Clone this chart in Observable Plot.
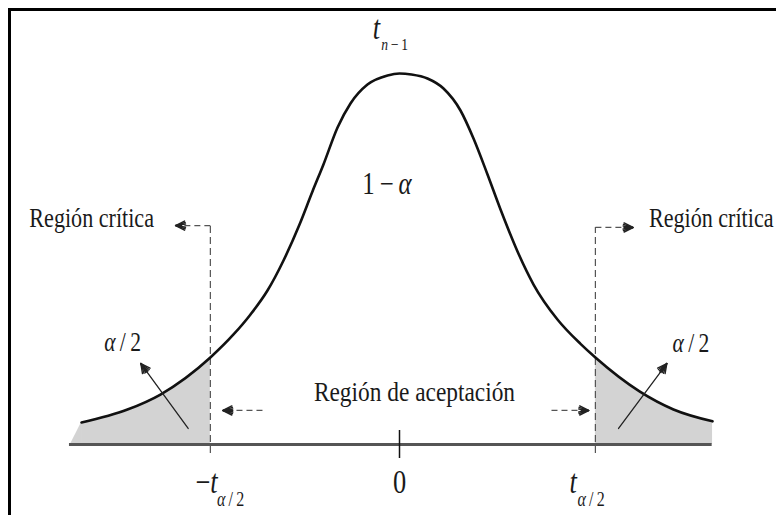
<!DOCTYPE html>
<html><head><meta charset="utf-8">
<script src="https://cdn.jsdelivr.net/npm/d3@7"></script>
<script src="https://cdn.jsdelivr.net/npm/@observablehq/plot@0.6"></script>
<style>html,body{margin:0;padding:0;background:#fff;overflow:hidden}</style>
</head><body><div id="chart"></div>
<script>
// density curve (t units, density)
const curveX = [-3.295, -2.819, -2.477, -1.96, -1.720, -1.544, -1.368, -1.202, -1.036, -0.902, -0.788, -0.642, -0.508, -0.332, -0.124, 0,
                0.124, 0.290, 0.456, 0.632, 0.767, 0.912, 1.047, 1.223, 1.389, 1.637, 1.876, 2.03, 2.487, 2.839, 3.244];
const curveY = [0.0237, 0.0377, 0.0539, 0.0938, 0.1186, 0.1402, 0.1660, 0.1984, 0.2372, 0.2728, 0.3019, 0.3418, 0.3677, 0.3881, 0.3979, 0.4,
                0.3989, 0.3946, 0.3838, 0.3601, 0.3299, 0.2911, 0.2534, 0.2081, 0.1725, 0.1348, 0.1085, 0.0938, 0.0573, 0.0378, 0.0250];
// critical values
const critX = [-1.96, 2.03];
const critTop = [0.236, 0.234];
const critBottom = -0.0097;
// axis extent
const axisX = [-3.42, 3.24];
// left shading sliver
const sliverX = [-3.41, -3.295];
const sliverY = [0, 0.0237];
// top "Región crítica" arrows (from critical line outward)
const topArrowFrom = [-1.96, 2.03];
const topArrowTo = [-2.32, 2.42];
const topArrowY = [0.236, 0.234];
// lower "Región de aceptación" arrows
const lowArrowFrom = [-1.42, 1.575];
const lowArrowTo = [-1.83, 1.96];
const lowArrowY = [0.0367, 0.0367];
// α/2 arrows
const alphaArrowX1 = [-2.19, 2.27], alphaArrowY1 = [0.0173, 0.0173];
const alphaArrowX2 = [-2.68, 2.77], alphaArrowY2 = [0.0873, 0.0873];
// text labels
const regionText = ["Región crítica", "Región crítica", "Región de aceptación"];
const regionX = [-3.19, 3.23, 0.155];
const regionY = [0.234, 0.234, 0.0464];
const alphaText = ["α\u2009/\u20092", "α\u2009/\u20092"];
const alphaX = [-2.87, 3.02];
const alphaY = [0.101, 0.0992];
const oneMinusText = "1\u2009\u2212\u2009α";
const oneMinusPos = [-0.13, 0.2706];
const distMain = "t", distSub = "n\u2009\u2212\u20091";
const distMainPos = [-0.24, 0.437], distSubPos = [-0.05, 0.4248];
// tick labels
const tickMain = ["\u2212t", "0", "t"];
const tickMainX = [-2.0, 0, 1.80];
const tickMainY = -0.0528;
const tickSub = ["α\u2009/\u20092", "α\u2009/\u20092"];
const tickSubX = [-1.75, 1.985];
const tickSubY = -0.0658;
const zeroTick = [0];

const curve = curveX.map((x, i) => ({x, y: curveY[i]}));
const leftShade = curve.filter(d => d.x <= critX[0]);
const rightShade = curve.filter(d => d.x >= critX[1]);
const sliver = sliverX.map((x, i) => ({x, y: sliverY[i]}));
const idx = a => a.map((_, i) => i);

const serif = "'Liberation Serif', 'Times New Roman', 'DejaVu Serif', serif";
const headAngles = [18, 36, 54];
// filled-looking arrowheads: several heads of different opening stacked on the same tip
const heads = (x1, y1, x2, y2, opts) => headAngles.map(a =>
  Plot.arrow(idx(x1), {x1: i => x1[i], y1: i => y1[i], x2: i => x2[i], y2: i => y2[i], headAngle: a, ...opts}));

const plot = Plot.plot({
  width: 776, height: 515,
  marginTop: 9, marginLeft: 9, marginRight: -10, marginBottom: -10,
  x: {domain: [-3.5, 3.5], range: [399 - 3.5 * 96.5, 399 + 3.5 * 96.5], axis: null},
  y: {domain: [0, 0.4], range: [444, 73], axis: null},
  style: {fontFamily: serif, background: "white"},
  marks: [
    Plot.frame({stroke: "black", strokeWidth: 3}),
    Plot.areaY(leftShade, {x: "x", y: "y", fill: "#d3d3d3", curve: "monotone-x"}),
    Plot.areaY(rightShade, {x: "x", y: "y", fill: "#d3d3d3", curve: "monotone-x"}),
    Plot.areaY(sliver, {x: "x", y: "y", fill: "#d3d3d3"}),
    Plot.ruleY([0], {x1: axisX[0], x2: axisX[1], stroke: "#555", strokeWidth: 3}),
    Plot.ruleX(zeroTick, {y1: 0, y2: 0, insetTop: -14, insetBottom: -14, stroke: "#111", strokeWidth: 1.5}),
    Plot.ruleX(critX, {y1: critBottom, y2: (d, i) => critTop[i], stroke: "#555", strokeWidth: 1.2, strokeDasharray: "7,4"}),
    Plot.link(idx(topArrowFrom), {x1: i => topArrowFrom[i], x2: i => topArrowTo[i], y1: i => topArrowY[i], y2: i => topArrowY[i],
      stroke: "#555", strokeWidth: 1.3, strokeDasharray: "6,4"}),
    ...heads(topArrowFrom, topArrowY, topArrowTo, topArrowY, {stroke: "#222", strokeWidth: 1.5, headLength: 10, insetStart: 29}),
    Plot.link(idx(lowArrowFrom), {x1: i => lowArrowFrom[i], x2: i => lowArrowTo[i], y1: i => lowArrowY[i], y2: i => lowArrowY[i],
      stroke: "#555", strokeWidth: 1.3, strokeDasharray: "6,4"}),
    ...heads(lowArrowFrom, lowArrowY, lowArrowTo, lowArrowY, {stroke: "#222", strokeWidth: 1.5, headLength: 10, insetStart: 30}),
    Plot.line(curve, {x: "x", y: "y", curve: "monotone-x", stroke: "#111", strokeWidth: 2.6}),
    Plot.arrow(idx(alphaArrowX1), {x1: i => alphaArrowX1[i], y1: i => alphaArrowY1[i], x2: i => alphaArrowX2[i], y2: i => alphaArrowY2[i],
      stroke: "#222", strokeWidth: 1.3, headLength: 0}),
    ...heads(alphaArrowX1, alphaArrowY1, alphaArrowX2, alphaArrowY2, {stroke: "#222", strokeWidth: 1.4, headLength: 11, insetStart: 70}),
    Plot.text(regionText, {x: (d, i) => regionX[i], y: (d, i) => regionY[i], text: d => d, fontSize: 28, lineAnchor: "bottom", fill: "#1a1a1a"}),
    Plot.text(alphaText, {x: (d, i) => alphaX[i], y: (d, i) => alphaY[i], text: d => d, fontSize: 27, lineAnchor: "bottom", fill: "#1a1a1a"}),
    Plot.text([oneMinusText], {x: oneMinusPos[0], y: oneMinusPos[1], text: d => d, fontSize: 31, lineAnchor: "bottom", fill: "#1a1a1a"}),
    Plot.text([distMain], {x: distMainPos[0], y: distMainPos[1], text: d => d, fontSize: 33, lineAnchor: "bottom", fill: "#1a1a1a"}),
    Plot.text([distSub], {x: distSubPos[0], y: distSubPos[1], text: d => d, fontSize: 17, lineAnchor: "bottom", fill: "#1a1a1a"}),
    Plot.text(tickMain, {x: (d, i) => tickMainX[i], y: tickMainY, text: d => d, fontSize: 33, lineAnchor: "bottom", fill: "#1a1a1a"}),
    Plot.text(tickSub, {x: (d, i) => tickSubX[i], y: tickSubY, text: d => d, fontSize: 20, lineAnchor: "bottom", fill: "#1a1a1a"})
  ]
});

// math labels: italic variables, upright digits/operators; glyphs condensed horizontally as in the reference
const mathLabels = new Set([...alphaText, oneMinusText, distMain, distSub, ...tickMain, ...tickSub]);
const squeeze = {"Región crítica": 0.79, "Región de aceptación": 0.835};
d3.select(plot).selectAll("text").each(function() {
  const el = d3.select(this);
  const content = el.text();
  if (mathLabels.has(content)) {
    el.text(null);
    for (const ch of content) {
      el.append("tspan").attr("font-style", /[αtn]/.test(ch) ? "italic" : "normal").text(ch);
    }
  }
  const s = squeeze[content] ?? 0.8;
  const tr = el.attr("transform");
  if (tr) el.attr("transform", tr + ` scale(${s},1)`);
  else {
    const x = +el.attr("x") || 0, y = +el.attr("y") || 0;
    el.attr("x", null).attr("y", null).attr("transform", `translate(${x},${y}) scale(${s},1)`);
  }
});
document.getElementById("chart").appendChild(plot);
</script>
</body></html>
